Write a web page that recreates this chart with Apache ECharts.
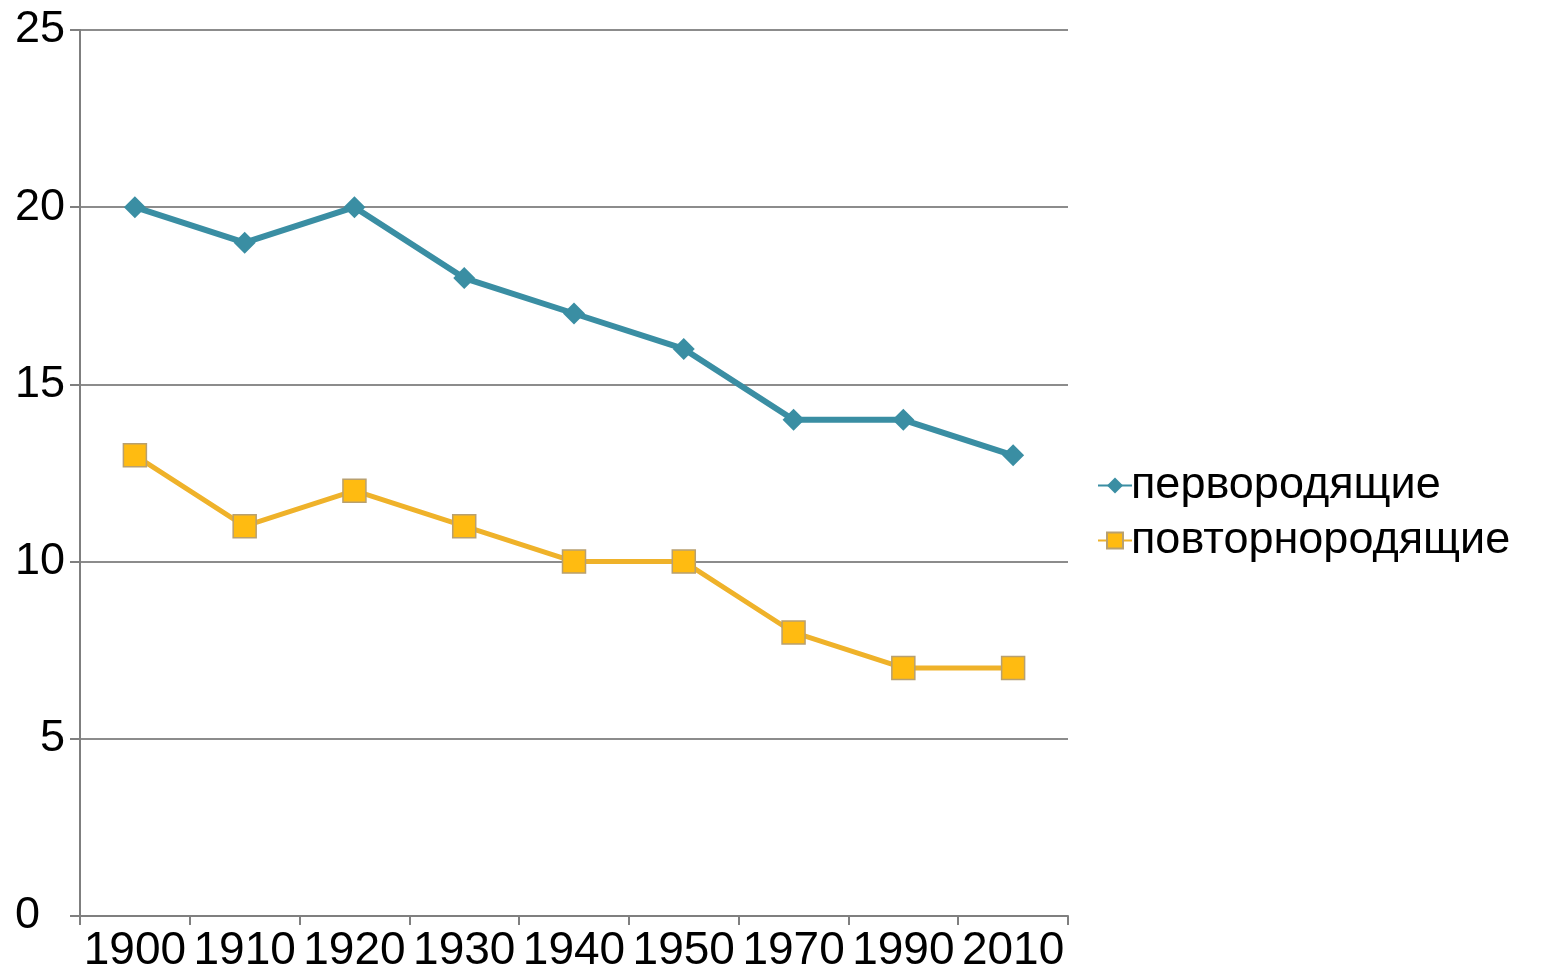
<!DOCTYPE html>
<html>
<head>
<meta charset="utf-8">
<script src="https://cdn.jsdelivr.net/npm/echarts@6/dist/echarts.min.js"></script>
<style>
  html, body { margin: 0; padding: 0; background: #fff; }
  #chart { width: 1541px; height: 980px; }
</style>
</head>
<body>
<div id="chart"></div>
<script>
// годы по оси X
const years = ['1900', '1910', '1920', '1930', '1940', '1950', '1970', '1990', '2010']
// значения серий
const firstBirth = [20, 19, 20, 18, 17, 16, 14, 14, 13]
const repeatBirth = [13, 11, 12, 11, 10, 10, 8, 7, 7]
const seriesNames = ['первородящие', 'повторнородящие']

const chart = echarts.init(document.getElementById('chart'))
const font = '"Liberation Sans", Arial, sans-serif'

chart.setOption({
  animation: false,
  textStyle: { fontFamily: font },
  grid: { left: 80, right: 473, top: 30, bottom: 64 },
  legend: {
    orient: 'vertical',
    left: 1092,
    top: 458,
    itemGap: 10,
    itemWidth: 34,
    itemHeight: 20,
    textStyle: { fontSize: 45, color: '#000', fontFamily: font, padding: [0, 0, 0, -6] },
    data: seriesNames
  },
  xAxis: {
    type: 'category',
    data: years,
    boundaryGap: true,
    axisLine: { lineStyle: { color: '#7f7f7f', width: 2 } },
    axisTick: { show: true, length: 9, interval: 0, lineStyle: { color: '#7f7f7f', width: 2 } },
    axisLabel: { fontSize: 46, color: '#000', margin: 12, interval: 0 }
  },
  yAxis: {
    type: 'value',
    min: 0,
    max: 25,
    interval: 5,
    axisLine: { show: true, lineStyle: { color: '#7f7f7f', width: 2 } },
    axisTick: { show: true, length: 10, lineStyle: { color: '#7f7f7f', width: 2 } },
    splitLine: { lineStyle: { color: '#8c8c8c', width: 2 } },
    axisLabel: {
      fontSize: 45,
      color: '#000',
      margin: 15,
      // ноль в оригинале сдвинут левее
      formatter: v => (v === 0 ? '{z|0}' : String(v)),
      rich: { z: { fontSize: 45, padding: [0, 25, 0, 0] } }
    }
  },
  series: [
    {
      name: seriesNames[0],
      type: 'line',
      data: firstBirth,
      symbol: 'diamond',
      symbolSize: 22,
      lineStyle: { color: '#3a8ea3', width: 6 },
      itemStyle: { color: '#3a8ea3' }
    },
    {
      name: seriesNames[1],
      type: 'line',
      data: repeatBirth,
      symbol: 'rect',
      symbolSize: 23,
      lineStyle: { color: '#efb22a', width: 5 },
      itemStyle: { color: '#ffbb11', borderColor: '#b8a070', borderWidth: 1.5 }
    }
  ]
})
</script>
</body>
</html>
